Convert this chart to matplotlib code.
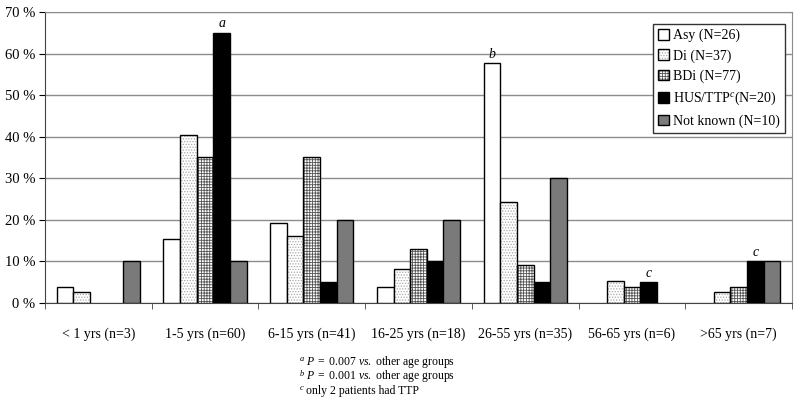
import matplotlib
matplotlib.use("Agg")
import matplotlib.pyplot as plt
from matplotlib.patches import Patch
from matplotlib.legend_handler import HandlerTuple
import numpy as np

categories = ["< 1 yrs (n=3)", "1-5 yrs (n=60)", "6-15 yrs (n=41)", "16-25 yrs (n=18)",
              "26-55 yrs (n=35)", "56-65 yrs (n=6)", ">65 yrs (n=7)"]
series_names = ["Asy (N=26)", "Di (N=37)", "BDi (N=77)", "HUS/TTP$^{c}$(N=20)", "Not known (N=10)"]
asy = [3.8, 15.4, 19.2, 3.8, 57.7, 0.0, 0.0]
di = [2.7, 40.5, 16.2, 8.1, 24.3, 5.4, 2.7]
bdi = [0.0, 35.1, 35.1, 13.0, 9.1, 3.9, 3.9]
hus = [0.0, 65.0, 5.0, 10.0, 5.0, 5.0, 10.0]
nk = [10.0, 10.0, 20.0, 20.0, 30.0, 0.0, 10.0]
yticks = [0, 10, 20, 30, 40, 50, 60, 70]
notes = [(1, 3, "a"), (4, 0, "b"), (5, 3, "c"), (6, 3, "c")]
footnote_marks = ["a", "b", "c"]
footnotes = [r"$\mathit{P}\ \mathrm{=\ 0.007}\ \mathit{vs.}\ \mathrm{other\ age\ groups}$",
             r"$\mathit{P}\ \mathrm{=\ 0.001}\ \mathit{vs.}\ \mathrm{other\ age\ groups}$",
             "only 2 patients had TTP"]

plt.rcParams['font.family'] = ['Liberation Serif', 'DejaVu Serif']
plt.rcParams['mathtext.fontset'] = 'custom'
plt.rcParams['mathtext.rm'] = 'Liberation Serif'
plt.rcParams['mathtext.it'] = 'Liberation Serif:italic'
plt.rcParams['hatch.linewidth'] = 0.6

fig = plt.figure(figsize=(8.0, 4.04), dpi=100)
ax = fig.add_axes([45/800, 1-303/404, (792-45)/800, (303-12)/404])

data = [asy, di, bdi, hus, nk]
styles = [
    dict(fc='white', hatch=None, hc=None),
    dict(fc='white', hatch='......', hc='#a8a8a8'),
    dict(fc='white', hatch='++++++', hc='#555555'),
    dict(fc='black', hatch=None, hc=None),
    dict(fc='#7a7a7a', hatch=None, hc=None),
]
x = np.arange(len(categories))
w = 0.156
handles = []
for j, (vals, st) in enumerate(zip(data, styles)):
    vals = np.asarray(vals)
    keep = vals > 0
    pos = (x + (j - 2) * w)[keep]
    v = vals[keep]
    if st['hatch']:
        ax.bar(pos, v, w, color=st['fc'], edgecolor=st['hc'], hatch=st['hatch'],
               linewidth=0, zorder=3)
        ax.bar(pos, v, w, fill=False, edgecolor='black', linewidth=1.0, zorder=4)
        h = (Patch(facecolor=st['fc'], edgecolor=st['hc'], hatch=st['hatch'], linewidth=0),
             Patch(fill=False, edgecolor='black', linewidth=1.0))
    else:
        ax.bar(pos, v, w, color=st['fc'], edgecolor='black', linewidth=1.0, zorder=3)
        h = Patch(facecolor=st['fc'], edgecolor='black', linewidth=1.0)
    handles.append(h)

for gi, sj, letter in notes:
    ax.text(x[gi] + (sj - 2) * w, data[sj][gi] + 0.6, letter, ha='center', va='bottom',
            fontsize=10, style='italic')

ax.set_xlim(-0.5, len(categories) - 0.5)
ax.set_ylim(0, 70)
ax.set_yticks(yticks)
ax.set_yticklabels([f"{v} %" for v in yticks], fontsize=10.5)
ax.set_xticks(x)
ax.set_xticklabels(categories, fontsize=10)
ax.set_xticks(np.arange(len(categories) + 1) - 0.5, minor=True)
ax.tick_params(axis='x', which='major', length=0, pad=18)
ax.tick_params(axis='x', which='minor', length=4, direction='out', color='#444444')
ax.tick_params(axis='y', length=4, direction='out', pad=3)
ax.grid(axis='y', color='#8c8c8c', linewidth=1.0, zorder=0)
ax.set_axisbelow(True)
for s in ['top', 'right']:
    ax.spines[s].set_color('#8c8c8c')
ax.spines['left'].set_color('#444444')
ax.spines['bottom'].set_color('#444444')

leg = ax.legend(handles, series_names, loc='upper right', bbox_to_anchor=(0.99, 0.959),
                borderaxespad=0, fancybox=False, edgecolor='#333333', framealpha=1,
                fontsize=10, handlelength=0.8, handleheight=0.8, handletextpad=0.3,
                labelspacing=0.5, borderpad=0.35,
                handler_map={tuple: HandlerTuple(ndivide=1, pad=0)})
leg.get_frame().set_linewidth(1.0)

for i, (m, t) in enumerate(zip(footnote_marks, footnotes)):
    yc = 1 - (362 + 14.5*i)/404
    fig.text(300/800, yc + 3/404, m, fontsize=6, ha='left', va='center', style='italic')
    fig.text(306/800, yc, t, fontsize=8.5, ha='left', va='center')

fig.savefig("out.png", dpi=100)
